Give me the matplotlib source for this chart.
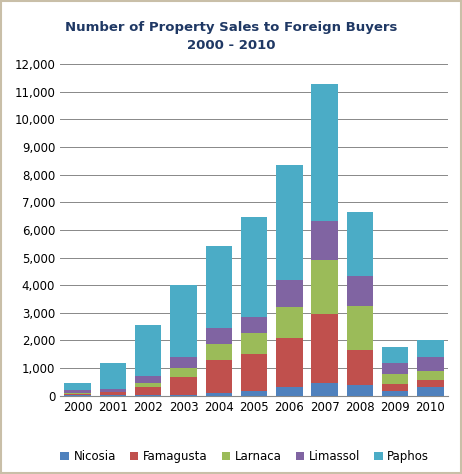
import matplotlib
matplotlib.use('Agg')
import matplotlib.pyplot as plt
import numpy as np

years = ['2000', '2001', '2002', '2003', '2004', '2005', '2006', '2007', '2008', '2009', '2010']
nicosia = [20, 20, 30, 30, 100, 180, 330, 470, 380, 180, 300]
famagusta = [60, 100, 300, 660, 1200, 1340, 1770, 2500, 1280, 250, 280]
larnaca = [20, 30, 120, 330, 580, 760, 1120, 1950, 1590, 360, 320]
limassol = [100, 100, 250, 380, 580, 570, 980, 1410, 1090, 410, 500]
paphos = [250, 950, 1850, 2600, 2940, 3630, 4150, 4940, 2310, 550, 630]

series = [('Nicosia', nicosia, '#4F81BD'), ('Famagusta', famagusta, '#C0504D'),
          ('Larnaca', larnaca, '#9BBB59'), ('Limassol', limassol, '#8064A2'),
          ('Paphos', paphos, '#4BACC6')]

fig = plt.figure(figsize=(4.62, 4.74), dpi=100)
fig.patches.append(plt.Rectangle((0.003, 0.003), 0.994, 0.994, transform=fig.transFigure,
                                 fill=False, edgecolor='#C9BFA8', linewidth=1.5))
ax = fig.add_axes([0.13, 0.165, 0.84, 0.7])

x = np.arange(len(years))
bottom = np.zeros(len(years))
for name, vals, color in series:
    ax.bar(x, vals, 0.75, bottom=bottom, color=color, label=name, zorder=3)
    bottom += np.array(vals)

ax.set_xlim(-0.5, len(years) - 0.5)
ax.set_ylim(0, 12000)
ax.set_yticks(range(0, 12001, 1000))
ax.set_yticklabels([f'{v:,}' for v in range(0, 12001, 1000)], fontsize=8.5)
ax.set_xticks(x)
ax.set_xticklabels(years, fontsize=8.5)
ax.grid(axis='y', color='#888888', linewidth=0.7, zorder=0)
for s in ['top', 'right', 'left']:
    ax.spines[s].set_visible(False)
ax.spines['bottom'].set_color('#888888')
ax.tick_params(length=0)

fig.text(0.5, 0.955, 'Number of Property Sales to Foreign Buyers\n2000 - 2010',
         ha='center', va='top', fontsize=9.5, fontweight='bold', color='#1F3864',
         linespacing=1.5)
fig.legend(loc='lower center', ncol=5, frameon=False, fontsize=8.5,
           bbox_to_anchor=(0.53, 0.0), handlelength=0.7, handleheight=0.7,
           columnspacing=1.2, handletextpad=0.4)

fig.savefig('out.png', dpi=100)
